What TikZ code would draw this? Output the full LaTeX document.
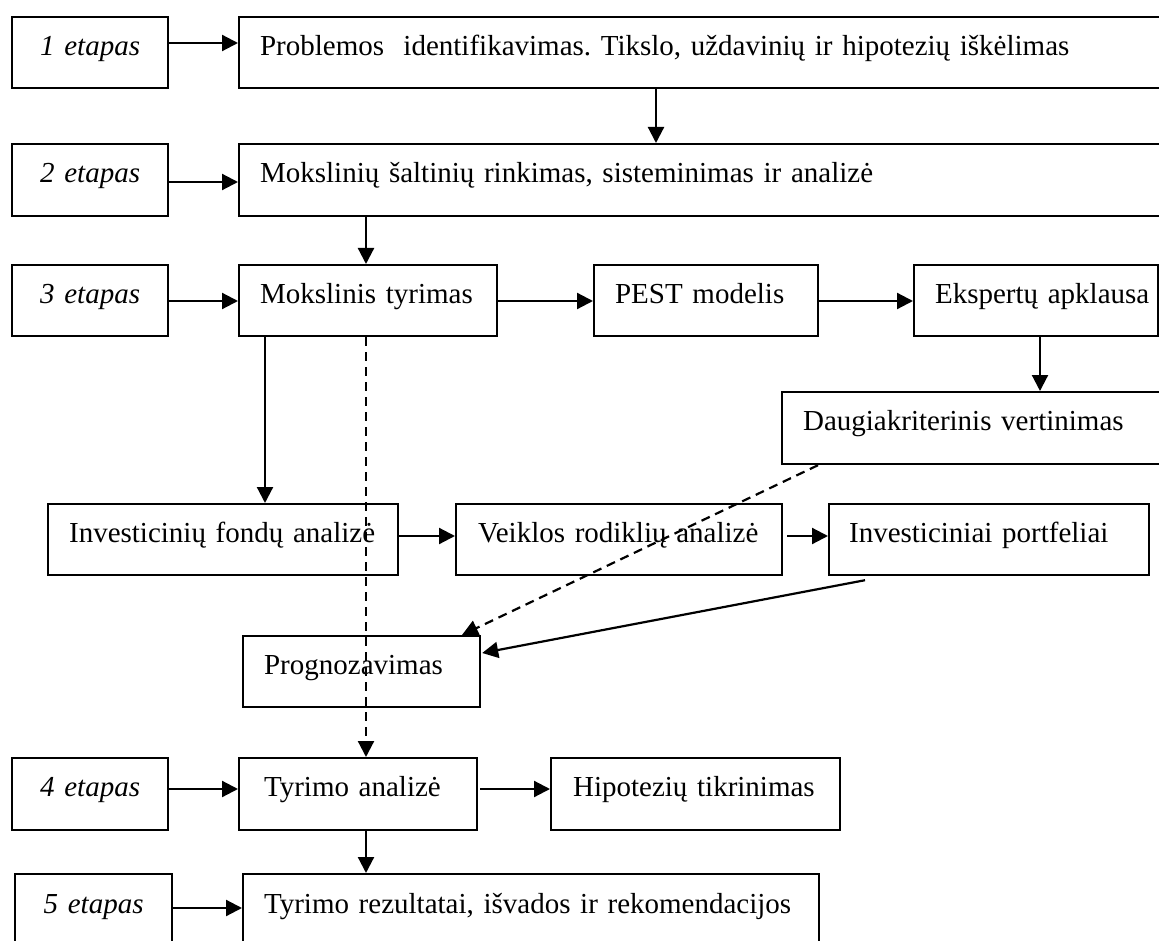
\documentclass[tikz,border=0pt]{standalone}
\usepackage{fontspec}
\setmainfont{Liberation Serif}
\usetikzlibrary{arrows.meta,calc}
\frenchspacing
\begin{document}
\begin{tikzpicture}[x=1pt,y=-1pt,
  box/.style={draw, line width=2.2pt, anchor=north west, inner xsep=0pt, inner ysep=0pt,
    text height=20pt, text depth=15pt, align=left, font=\fontsize{29}{34}\selectfont\frenchspacing},
  stage/.style={box, align=center, font=\fontsize{29}{34}\selectfont\itshape},
  arr/.style={line width=2.2pt, -{Triangle[length=16pt,width=16pt]}},
  darr/.style={arr, dash pattern=on 9pt off 6pt}]
\useasboundingbox (0,0) rectangle (1159,941);
\fill[white] (0,0) rectangle (1159,941);
\clip (0,0) rectangle (1159,941);

% stage boxes
\node[stage, text width=156pt, minimum height=71pt] (e1) at (11,16) {1 etapas};
\node[stage, text width=156pt, minimum height=72pt] (e2) at (11,143) {2 etapas};
\node[stage, text width=156pt, minimum height=71pt] (e3) at (11,264) {3 etapas};
\node[stage, text width=156pt, minimum height=72pt] (e4) at (11,757) {4 etapas};
\node[stage, text width=157pt, minimum height=73pt] (e5) at (14,873) {5 etapas};

% content boxes
\node[box, text width=942pt, minimum height=71pt] (b1) at (238,16) {\hspace*{21pt}Problemos~ identifikavimas. Tikslo, uždavinių ir hipotezių iškėlimas};
\node[box, text width=942pt, minimum height=72pt] (b2) at (238,143) {\hspace*{21pt}Mokslinių šaltinių rinkimas, sisteminimas ir analizė};
\node[box, text width=258pt, minimum height=71pt] (mt) at (238,264) {\hspace*{21pt}Mokslinis tyrimas};
\node[box, text width=224pt, minimum height=71pt] (pest) at (593,264) {\hspace*{21pt}PEST modelis};
\node[box, text width=244pt, minimum height=71pt] (eksp) at (913,264) {\hspace*{21pt}Ekspertų apklausa};
\node[box, text width=400pt, minimum height=72pt] (daug) at (781,391) {\hspace*{21pt}Daugiakriterinis vertinimas};
\node[box, text width=350pt, minimum height=71pt] (ifa) at (47,503) {\hspace*{21pt}Investicinių fondų analizė};
\node[box, text width=326pt, minimum height=71pt] (vra) at (455,503) {\hspace*{22pt}Veiklos rodiklių analizė};
\node[box, text width=320pt, minimum height=71pt] (ip) at (828,503) {\hspace*{20pt}Investiciniai portfeliai};
\node[box, text width=237pt, minimum height=71pt] (prog) at (242,635) {\hspace*{21pt}Prognozavimas};
\node[box, text width=238pt, minimum height=72pt] (ta) at (238,757) {\hspace*{25pt}Tyrimo analizė};
\node[box, text width=289pt, minimum height=72pt] (ht) at (550,757) {\hspace*{22pt}Hipotezių tikrinimas};
\node[box, text width=576pt, minimum height=73pt] (b5) at (242,873) {\hspace*{21pt}Tyrimo rezultatai, išvados ir rekomendacijos};

% connectors
\draw[arr] (e1.east |- 0,43) -- (b1.west |- 0,43);
\draw[arr] (b1.south -| 656,0) -- (b2.north -| 656,0);
\draw[arr] (e2.east |- 0,182) -- (b2.west |- 0,182);
\draw[arr] (b2.south -| 366,0) -- (mt.north -| 366,0);
\draw[arr] (e3.east |- 0,301) -- (mt.west |- 0,301);
\draw[arr] (mt.east |- 0,301) -- (pest.west |- 0,301);
\draw[arr] (pest.east |- 0,301) -- (eksp.west |- 0,301);
\draw[arr] (eksp.south -| 1040,0) -- (daug.north -| 1040,0);
\draw[arr] (mt.south -| 265,0) -- (ifa.north -| 265,0);
\draw[arr] (ifa.east |- 0,536) -- (vra.west |- 0,536);
\draw[arr] ($(vra.east |- 0,536)+(4,0)$) -- (ip.west |- 0,536);
\draw[darr] ($(daug.south west)+(37,0)$) -- ($(prog.north west)+(220,0)$);
\draw[arr] ($(ip.south west)+(37,4)$) -- ($(prog.north east)+(1,18)$);
\draw[darr] (mt.south -| 366,0) -- (ta.north -| 366,0);
\draw[arr] (e4.east |- 0,789) -- (ta.west |- 0,789);
\draw[arr] ($(ta.east |- 0,789)+(2,0)$) -- (ht.west |- 0,789);
\draw[arr] (ta.south -| 366,0) -- (b5.north -| 366,0);
\draw[arr] (e5.east |- 0,908) -- (b5.west |- 0,908);
\end{tikzpicture}
\end{document}
